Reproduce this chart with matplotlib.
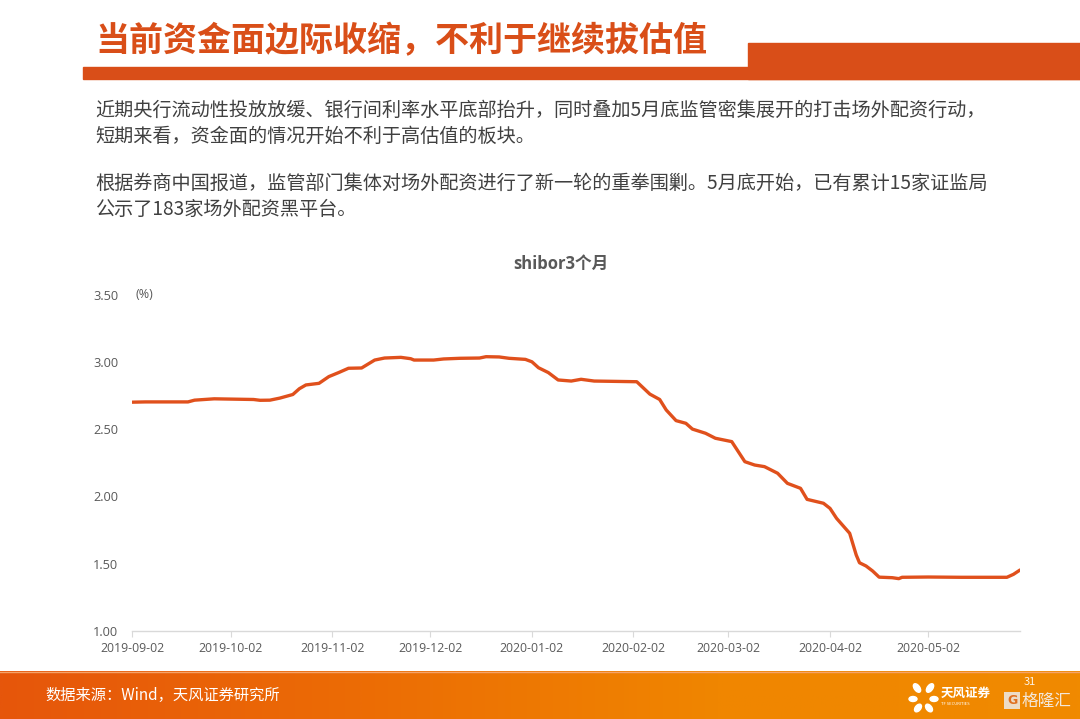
import numpy as np
import pandas as pd
import matplotlib
matplotlib.use("Agg")
import matplotlib.pyplot as plt
import matplotlib.dates as mdates
from matplotlib.patches import Rectangle, Ellipse
from matplotlib.colors import LinearSegmentedColormap

plt.rcParams['font.family'] = ['Noto Sans CJK SC', 'DejaVu Sans']

# ---- content ----
page_title = "当前资金面边际收缩，不利于继续拔估值"
body_lines = [
    "近期央行流动性投放放缓、银行间利率水平底部抬升，同时叠加5月底监管密集展开的打击场外配资行动，",
    "短期来看，资金面的情况开始不利于高估值的板块。",
    "根据券商中国报道，监管部门集体对场外配资进行了新一轮的重拳围剿。5月底开始，已有累计15家证监局",
    "公示了183家场外配资黑平台。",
]
chart_title = "shibor3个月"
unit_label = "(%)"
source_note = "数据来源：Wind，天风证券研究所"

# SHIBOR 3M (%)
dates = [
    "2019-09-02", "2019-09-06", "2019-09-19", "2019-09-21", "2019-09-27",
    "2019-10-09", "2019-10-11", "2019-10-14", "2019-10-17", "2019-10-21",
    "2019-10-23", "2019-10-25", "2019-10-29", "2019-11-01", "2019-11-04",
    "2019-11-07", "2019-11-11", "2019-11-15", "2019-11-18", "2019-11-23",
    "2019-11-26", "2019-11-27", "2019-12-03", "2019-12-06", "2019-12-11",
    "2019-12-17", "2019-12-19", "2019-12-23", "2019-12-26", "2019-12-31",
    "2020-01-02", "2020-01-04", "2020-01-07", "2020-01-10", "2020-01-14",
    "2020-01-17", "2020-01-21", "2020-02-03", "2020-02-07", "2020-02-10",
    "2020-02-12", "2020-02-15", "2020-02-18", "2020-02-20", "2020-02-24",
    "2020-02-27", "2020-03-03", "2020-03-07", "2020-03-10", "2020-03-13",
    "2020-03-17", "2020-03-20", "2020-03-24", "2020-03-26", "2020-03-31",
    "2020-04-02", "2020-04-04", "2020-04-08", "2020-04-10", "2020-04-11",
    "2020-04-13", "2020-04-15", "2020-04-17", "2020-04-21", "2020-04-23",
    "2020-04-24", "2020-05-02", "2020-05-12", "2020-05-26", "2020-05-28",
    "2020-05-30",
]
shibor_3m = [
    2.700, 2.702, 2.702, 2.715, 2.725,
    2.720, 2.714, 2.715, 2.730, 2.757,
    2.800, 2.828, 2.840, 2.890, 2.920,
    2.952, 2.954, 3.013, 3.028, 3.033,
    3.023, 3.013, 3.013, 3.021, 3.026,
    3.028, 3.038, 3.036, 3.026, 3.018,
    3.000, 2.956, 2.920, 2.865, 2.857,
    2.870, 2.857, 2.852, 2.760, 2.720,
    2.642, 2.563, 2.543, 2.500, 2.469,
    2.432, 2.407, 2.258, 2.233, 2.221,
    2.172, 2.097, 2.060, 1.978, 1.949,
    1.911, 1.837, 1.726, 1.565, 1.507,
    1.483, 1.446, 1.400, 1.396, 1.389,
    1.399, 1.401, 1.399, 1.399, 1.421,
    1.453,
]
x_ticks = ["2019-09-02", "2019-10-02", "2019-11-02", "2019-12-02", "2020-01-02",
           "2020-02-02", "2020-03-02", "2020-04-02", "2020-05-02"]
y_ticks = [1.00, 1.50, 2.00, 2.50, 3.00, 3.50]

# ---- colours ----
accent = "#D94E18"
line_color = "#E0501C"
text_dark = "#404040"
axis_text = "#595959"

W, H = 1080, 719
fig = plt.figure(figsize=(W / 100, H / 100), dpi=100)
fig.patch.set_facecolor("white")


def fx(px):
    return px / W


def fy(py):
    return 1 - py / H


# header band
fig.patches.append(Rectangle((fx(83), fy(79)), 1 - fx(83), 12 / H,
                             transform=fig.transFigure, color=accent, zorder=1))
fig.patches.append(Rectangle((fx(748), fy(79)), 1 - fx(748), 36 / H,
                             transform=fig.transFigure, color=accent, zorder=1))
fig.text(fx(95), fy(41), page_title, fontsize=24.5, fontweight="bold",
         color=accent, va="center", ha="left", zorder=3)

# body text
for txt, py in zip(body_lines, [110, 136, 183, 209]):
    fig.text(fx(95), fy(py), txt, fontsize=13.8, color=text_dark,
             va="center", ha="left")

# chart
ax = fig.add_axes([fx(132.3), fy(631), fx(1020) - fx(132.3), (631 - 294.5) / H])
d = pd.to_datetime(dates)
ax.plot(d, shibor_3m, color=line_color, lw=2.4, solid_capstyle="round",
        solid_joinstyle="round")
ax.set_ylim(1.0, 3.5)
ax.set_xlim(pd.Timestamp("2019-09-02"), pd.Timestamp("2020-05-30"))
ax.set_yticks(y_ticks)
ax.set_yticklabels([f"{v:.2f}" for v in y_ticks])
ax.set_xticks(pd.to_datetime(x_ticks))
ax.xaxis.set_major_formatter(mdates.DateFormatter("%Y-%m-%d"))
for s in ["top", "right", "left"]:
    ax.spines[s].set_visible(False)
ax.spines["bottom"].set_color("#D9D9D9")
ax.spines["bottom"].set_linewidth(1.0)
ax.tick_params(axis="y", length=0, pad=10, labelsize=9.2, labelcolor=axis_text)
ax.tick_params(axis="x", length=4, width=0.8, color="#D9D9D9", pad=4,
               labelsize=8.8, labelcolor=axis_text)
for lab in ax.get_xticklabels() + ax.get_yticklabels():
    lab.set_fontfamily(["Open Sans", "Noto Sans CJK SC"])
ax.set_facecolor("none")

fig.text(fx(561), fy(264), chart_title, fontsize=12, fontweight="bold",
         color=axis_text, ha="center", va="center",
         family=["Open Sans", "Noto Sans CJK SC"])
fig.text(fx(136), fy(295), unit_label, fontsize=9, color=axis_text,
         ha="left", va="center", family=["Open Sans", "Noto Sans CJK SC"])

# footer band with gradient
fax = fig.add_axes([0, 0, 1, 48 / H])
grad = np.linspace(0, 1, 512)[None, :]
cmap = LinearSegmentedColormap.from_list("band", ["#E6560B", "#EC6C05", "#F08600", "#F08A00"])
fax.imshow(grad, aspect="auto", cmap=cmap, extent=[0, 1, 0, 1])
fax.axhline(0.985, color="#F5A36A", lw=1)
fax.set_xlim(0, 1)
fax.set_ylim(0, 1)
fax.axis("off")

fig.text(fx(45), fy(695), source_note, fontsize=11, color="white",
         ha="left", va="center")

# brand mark
for (cx, cy, w, h, ang) in [(917, 688, 6, 9, 20), (930, 688, 6, 9, -20),
                            (913, 699, 8, 5, 0), (934, 699, 8, 5, 0),
                            (918, 708, 6, 8, -20), (929, 708, 6, 8, 20)]:
    fig.patches.append(Ellipse((fx(cx), fy(cy)), w / W, h / H, angle=ang,
                               transform=fig.transFigure, color="white", zorder=3))
fig.text(fx(941), fy(693), "天风证券", fontsize=9, fontweight="bold",
         color="white", ha="left", va="center")
fig.text(fx(941), fy(704), "TF SECURITIES", fontsize=3, color="white",
         ha="left", va="center")
fig.text(fx(1024), fy(682), "31", fontsize=8, color="white",
         ha="left", va="center", alpha=0.9)
fig.patches.append(Rectangle((fx(1004), fy(709)), 16 / W, 17 / H,
                             transform=fig.transFigure, facecolor="#EDE6DD",
                             edgecolor="none", zorder=3, alpha=0.9))
fig.text(fx(1012), fy(700.5), "G", fontsize=9, fontweight="bold", color="#E07020",
         ha="center", va="center", family=["DejaVu Sans"])
fig.text(fx(1022), fy(701), "格隆汇", fontsize=12, color="#F4EDE6",
         ha="left", va="center", alpha=0.95)

fig.savefig("out.png", dpi=100)
